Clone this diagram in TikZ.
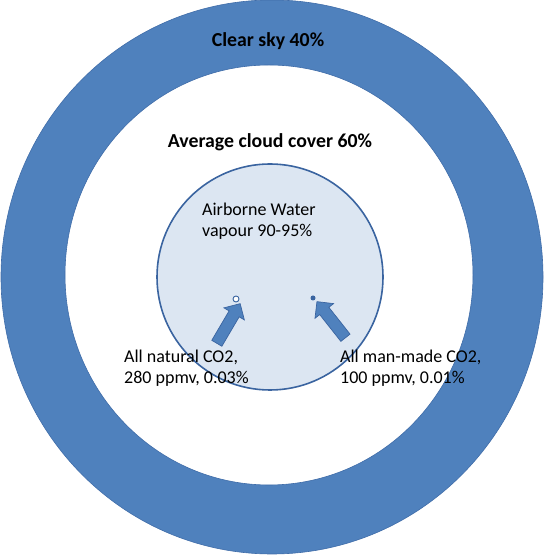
\documentclass[tikz,border=0pt]{standalone}
\usepackage{fontspec}
\setmainfont{Carlito}
\usetikzlibrary{shapes.arrows, positioning}
\definecolor{ringblue}{HTML}{4F81BD}
\definecolor{edgeblue}{HTML}{3A64A0}
\definecolor{vapourfill}{HTML}{DCE6F2}
\tikzset{
    ring/.style = {fill=ringblue, draw=edgeblue!70!ringblue, line width=0.6pt, even odd rule},
    vapour/.style = {circle, draw=edgeblue, line width=1.6pt, fill=vapourfill, minimum size=226pt, inner sep=0pt},
    heading/.style = {font=\bfseries\fontsize{19.8}{23}\selectfont, inner sep=0pt},
    label/.style = {font=\fontsize{18}{21}\selectfont, align=left, inner sep=0pt},
    molecule/.style = {circle, draw=edgeblue, line width=0.9pt, fill=white, minimum size=6pt, inner sep=0pt},
    dot/.style = {circle, fill=edgeblue, minimum size=5pt, inner sep=0pt},
    pointer/.style = {single arrow, draw=edgeblue, line width=0.7pt, fill=ringblue, inner xsep=0pt, inner ysep=5.5pt,
        minimum height=46pt, single arrow head extend=6pt, single arrow head indent=0pt}
}
\begin{document}
\begin{tikzpicture}[x=1pt, y=1pt]
        \useasboundingbox (0,0) rectangle (544,556);
        % Rings
        \coordinate (sky) at (272,279);
        \coordinate (cloud) at (269,281);
        \path [ring] (sky) ellipse [x radius=271, y radius=277] (cloud) ellipse [x radius=204, y radius=210];
        \node [vapour] (water) at (270,279) {};
        
        % Headings
        \node [heading] (clear) at (268,515) {Clear sky 40\%};
        \node [heading] (average) at (270,414) {Average cloud cover 60\%};
        \node [label, anchor=west] (airborne) at (202,334.5) {Airborne Water\\vapour 90-95\%};
        
        % CO2
        \node [molecule] (natural) at (236,257) {};
        \node [dot] (manmade) at (313,258) {};
        \node [pointer, rotate=59.5] (natarrow) at (227,230) {};
        \node [pointer, rotate=128.3] (manarrow) at (333,234) {};
        \node [label, anchor=west] (natlabel) at (124,188) {All natural CO2,\\280 ppmv, 0.03\%};
        \node [label, anchor=west] (manlabel) at (340,188) {All man-made CO2,\\100 ppmv, 0.01\%};
    \end{tikzpicture}
\end{document}
